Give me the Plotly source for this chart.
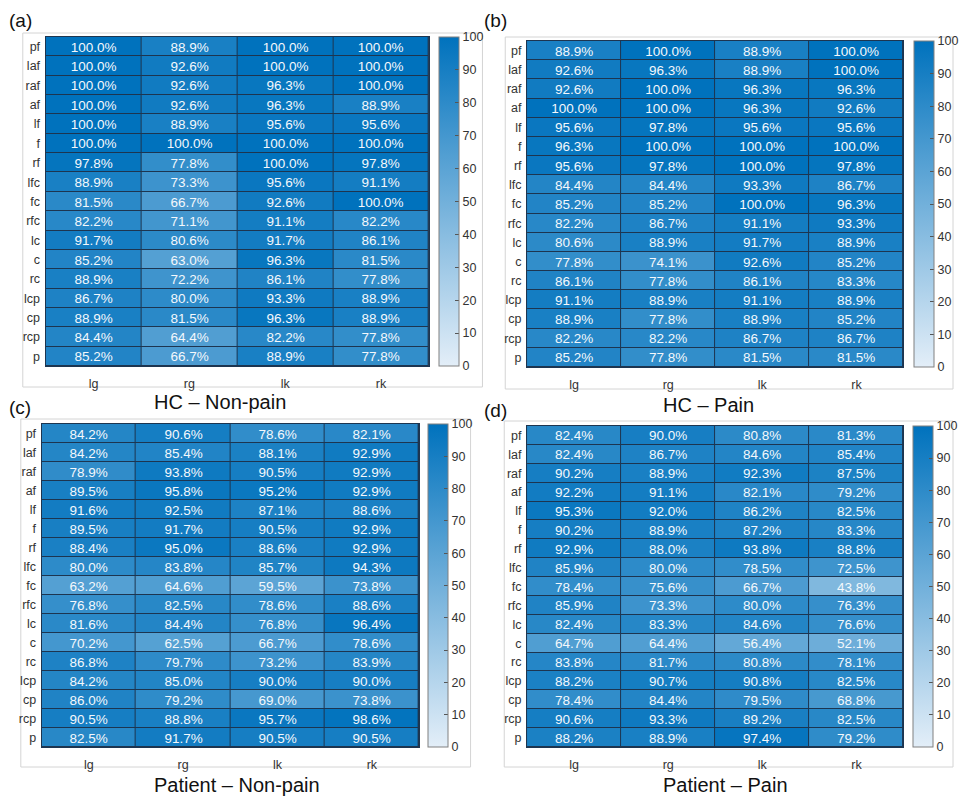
import plotly.graph_objects as go

W, H = 964, 798

rows = ["pf", "laf", "raf", "af", "lf", "f", "rf", "lfc", "fc", "rfc", "lc", "c", "rc", "lcp", "cp", "rcp", "p"]
cols = ["lg", "rg", "lk", "rk"]

hc_nonpain = [
    [100.0, 88.9, 100.0, 100.0],
    [100.0, 92.6, 100.0, 100.0],
    [100.0, 92.6, 96.3, 100.0],
    [100.0, 92.6, 96.3, 88.9],
    [100.0, 88.9, 95.6, 95.6],
    [100.0, 100.0, 100.0, 100.0],
    [97.8, 77.8, 100.0, 97.8],
    [88.9, 73.3, 95.6, 91.1],
    [81.5, 66.7, 92.6, 100.0],
    [82.2, 71.1, 91.1, 82.2],
    [91.7, 80.6, 91.7, 86.1],
    [85.2, 63.0, 96.3, 81.5],
    [88.9, 72.2, 86.1, 77.8],
    [86.7, 80.0, 93.3, 88.9],
    [88.9, 81.5, 96.3, 88.9],
    [84.4, 64.4, 82.2, 77.8],
    [85.2, 66.7, 88.9, 77.8],
]

hc_pain = [
    [88.9, 100.0, 88.9, 100.0],
    [92.6, 96.3, 88.9, 100.0],
    [92.6, 100.0, 96.3, 96.3],
    [100.0, 100.0, 96.3, 92.6],
    [95.6, 97.8, 95.6, 95.6],
    [96.3, 100.0, 100.0, 100.0],
    [95.6, 97.8, 100.0, 97.8],
    [84.4, 84.4, 93.3, 86.7],
    [85.2, 85.2, 100.0, 96.3],
    [82.2, 86.7, 91.1, 93.3],
    [80.6, 88.9, 91.7, 88.9],
    [77.8, 74.1, 92.6, 85.2],
    [86.1, 77.8, 86.1, 83.3],
    [91.1, 88.9, 91.1, 88.9],
    [88.9, 77.8, 88.9, 85.2],
    [82.2, 82.2, 86.7, 86.7],
    [85.2, 77.8, 81.5, 81.5],
]

patient_nonpain = [
    [84.2, 90.6, 78.6, 82.1],
    [84.2, 85.4, 88.1, 92.9],
    [78.9, 93.8, 90.5, 92.9],
    [89.5, 95.8, 95.2, 92.9],
    [91.6, 92.5, 87.1, 88.6],
    [89.5, 91.7, 90.5, 92.9],
    [88.4, 95.0, 88.6, 92.9],
    [80.0, 83.8, 85.7, 94.3],
    [63.2, 64.6, 59.5, 73.8],
    [76.8, 82.5, 78.6, 88.6],
    [81.6, 84.4, 76.8, 96.4],
    [70.2, 62.5, 66.7, 78.6],
    [86.8, 79.7, 73.2, 83.9],
    [84.2, 85.0, 90.0, 90.0],
    [86.0, 79.2, 69.0, 73.8],
    [90.5, 88.8, 95.7, 98.6],
    [82.5, 91.7, 90.5, 90.5],
]

patient_pain = [
    [82.4, 90.0, 80.8, 81.3],
    [82.4, 86.7, 84.6, 85.4],
    [90.2, 88.9, 92.3, 87.5],
    [92.2, 91.1, 82.1, 79.2],
    [95.3, 92.0, 86.2, 82.5],
    [90.2, 88.9, 87.2, 83.3],
    [92.9, 88.0, 93.8, 88.8],
    [85.9, 80.0, 78.5, 72.5],
    [78.4, 75.6, 66.7, 43.8],
    [85.9, 73.3, 80.0, 76.3],
    [82.4, 83.3, 84.6, 76.6],
    [64.7, 64.4, 56.4, 52.1],
    [83.8, 81.7, 80.8, 78.1],
    [88.2, 90.7, 90.8, 82.5],
    [78.4, 84.4, 79.5, 68.8],
    [90.6, 93.3, 89.2, 82.5],
    [88.2, 88.9, 97.4, 79.2],
]

titles = ["HC – Non-pain", "HC – Pain", "Patient – Non-pain", "Patient – Pain"]
labels = ["(a)", "(b)", "(c)", "(d)"]
datasets = [hc_nonpain, hc_pain, patient_nonpain, patient_pain]

# layout in pixels: heatmap (x0,x1,y0,y1), colorbar x0, box (x0,x1,y0,y1), title (x,y), label (x,y)
panels = [
    dict(hm=(46, 433, 37, 366), cb=443, box=(23, 487, 33, 387), title=(222, 402), lab=(7, 20)),
    dict(hm=(532, 912, 41, 367), cb=923, box=(510, 962, 37, 389), title=(715, 405), lab=(487, 20)),
    dict(hm=(42, 423, 424, 747), cb=432, box=(21, 475, 419, 767), title=(239, 785), lab=(7, 407)),
    dict(hm=(532, 912, 426, 747), cb=922, box=(509, 962, 421, 767), title=(732, 785), lab=(487, 410)),
]

colorscale = [[0.0, "#e3eef8"], [1.0, "#0072bd"]]
FONT = "Liberation Sans, Arial, sans-serif"
BORDER = "#1d3550"

def px(x):
    return x / W

def py(y):
    return 1 - y / H

fig = go.Figure()
shapes = []
annotations = []

for i, (data, p) in enumerate(zip(datasets, panels)):
    n = "" if i == 0 else str(i + 1)
    x0, x1, y0, y1 = p["hm"]
    fig.add_trace(go.Heatmap(
        z=data, x=cols, y=rows,
        xaxis="x" + n, yaxis="y" + n,
        zmin=0, zmax=100, colorscale=colorscale,
        xgap=1, ygap=1,
        texttemplate="%{z:.1f}%",
        textfont=dict(color="#f4f8fc", size=13.5, family=FONT),
        hoverinfo="skip",
        colorbar=dict(
            x=px(p["cb"]), xanchor="left", xpad=0, ypad=0,
            y=py((y0 + y1) / 2), yanchor="middle",
            len=(y1 - y0) / H, lenmode="fraction",
            thickness=20, thicknessmode="pixels",
            outlinewidth=1, outlinecolor="#808080",
            tickvals=list(range(0, 101, 10)),
            ticks="inside", ticklen=4, tickcolor="#555555",
            tickfont=dict(size=12.5, color="#333333", family=FONT),
        ),
    ))
    fig.update_layout(**{
        "xaxis" + n: dict(
            domain=[px(x0), px(x1)], anchor="y" + n,
            showgrid=False, zeroline=False, ticks="",
            showline=True, mirror=True, linecolor=BORDER, linewidth=1,
            tickfont=dict(size=12.5, color="#333333", family=FONT),
            ticklabelstandoff=6,
            fixedrange=True,
        ),
        "yaxis" + n: dict(
            domain=[py(y1), py(y0)], anchor="x" + n,
            autorange="reversed",
            showgrid=False, zeroline=False, ticks="",
            showline=True, mirror=True, linecolor=BORDER, linewidth=1,
            tickfont=dict(size=12.5, color="#333333", family=FONT),
            ticklabelstandoff=2,
            fixedrange=True,
        ),
    })
    bx0, bx1, by0, by1 = p["box"]
    shapes.append(dict(type="rect", xref="paper", yref="paper",
                       x0=px(bx0), x1=px(bx1), y0=py(by1), y1=py(by0),
                       line=dict(color="#d4d4d4", width=1), layer="below"))
    tx, ty = p["title"]
    annotations.append(dict(text=titles[i], xref="paper", yref="paper",
                            x=px(tx), y=py(ty), xanchor="center", yanchor="middle",
                            showarrow=False, font=dict(size=20, color="#111111", family=FONT)))
    lx, ly = p["lab"]
    annotations.append(dict(text=labels[i], xref="paper", yref="paper",
                            x=px(lx), y=py(ly), xanchor="left", yanchor="middle",
                            showarrow=False, font=dict(size=19, color="#111111", family=FONT)))

fig.update_layout(
    width=W, height=H,
    margin=dict(l=0, r=0, t=0, b=0),
    paper_bgcolor="white",
    plot_bgcolor=BORDER,
    shapes=shapes,
    annotations=annotations,
    font=dict(family=FONT),
)

fig.write_html("out.html")
